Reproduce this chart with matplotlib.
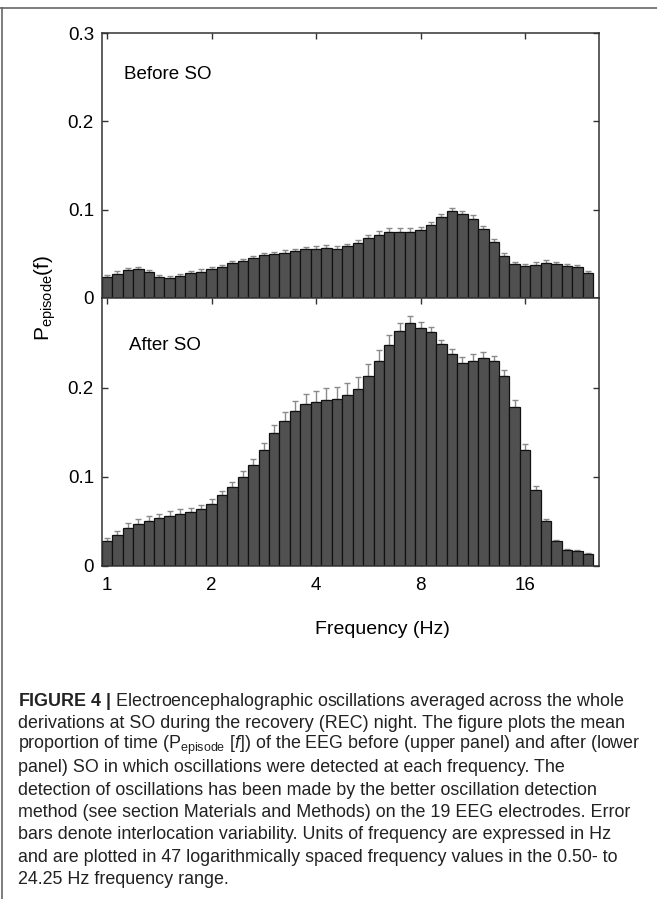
import numpy as np
import matplotlib
matplotlib.use('Agg')
import matplotlib.pyplot as plt
from matplotlib.lines import Line2D

plt.rcParams['font.family'] = ['Liberation Sans', 'DejaVu Sans']
plt.rcParams['mathtext.fontset'] = 'custom'
plt.rcParams['mathtext.rm'] = 'Liberation Sans'
plt.rcParams['mathtext.it'] = 'Liberation Sans:italic'
plt.rcParams['mathtext.bf'] = 'Liberation Sans:bold'

# 47 frequencies, 0.1 octave apart, 1 .. 24.25 Hz
octave_steps = np.arange(47) / 10.0
freqs = 2.0 ** octave_steps

before_so = [0.0233, 0.0275, 0.0313, 0.0324, 0.0290, 0.0240, 0.0229, 0.0248, 0.0279, 0.0298,
             0.0328, 0.0351, 0.0393, 0.0416, 0.0450, 0.0485, 0.0496, 0.0508, 0.0530, 0.0550,
             0.0557, 0.0561, 0.0557, 0.0584, 0.0626, 0.0683, 0.0718, 0.0752, 0.0752, 0.0752,
             0.0767, 0.0828, 0.0912, 0.0980, 0.0950, 0.0900, 0.0779, 0.0630, 0.0477, 0.0385,
             0.0359, 0.0378, 0.0400, 0.0385, 0.0359, 0.0347, 0.0286]
before_err = [0.003, 0.003, 0.003, 0.003, 0.003, 0.0025, 0.0025, 0.0025, 0.0025, 0.0025,
              0.0025, 0.0025, 0.0025, 0.0025, 0.003, 0.003, 0.003, 0.003, 0.003, 0.003,
              0.0035, 0.0035, 0.003, 0.003, 0.003, 0.0035, 0.0035, 0.0035, 0.0035, 0.0035,
              0.0035, 0.0035, 0.0035, 0.0035, 0.003, 0.0035, 0.0035, 0.0035, 0.003, 0.0025,
              0.0025, 0.0025, 0.0025, 0.0025, 0.003, 0.003, 0.0025]

after_so = [0.0278, 0.0353, 0.0429, 0.0477, 0.0508, 0.0538, 0.0564, 0.0579, 0.0602, 0.0635,
            0.0699, 0.0797, 0.0883, 0.1004, 0.1139, 0.1300, 0.1490, 0.1630, 0.1740, 0.1816,
            0.1842, 0.1868, 0.1880, 0.1925, 0.1992, 0.2132, 0.2297, 0.2477, 0.2635, 0.2730,
            0.2677, 0.2632, 0.2489, 0.2383, 0.2282, 0.2301, 0.2331, 0.2308, 0.2132, 0.1790,
            0.1300, 0.0853, 0.0504, 0.0278, 0.0184, 0.0165, 0.0139]
after_err = [0.0040, 0.0045, 0.0049, 0.0049, 0.0049, 0.0049, 0.0053, 0.0056, 0.0049, 0.0045,
             0.0049, 0.0049, 0.0060, 0.0060, 0.0068, 0.0079, 0.0090, 0.0105, 0.0113, 0.0120,
             0.0128, 0.0128, 0.0128, 0.0132, 0.0128, 0.0139, 0.0128, 0.0117, 0.0098, 0.0075,
             0.0068, 0.0049, 0.0049, 0.0049, 0.0064, 0.0079, 0.0068, 0.0056, 0.0068, 0.0071,
             0.0068, 0.0045, 0.0026, 0.0011, 0.0011, 0.0011, 0.0011]

xticks = [1, 2, 4, 8, 16]

caption_lines = [
    r"$\bf{FIGURE\ 4\ |}$ Electroencephalographic oscillations averaged across the whole",
    "derivations at SO during the recovery (REC) night. The figure plots the mean",
    r"proportion of time (P$_{\rm episode}$ [$f$]) of the EEG before (upper panel) and after (lower",
    "panel) SO in which oscillations were detected at each frequency. The",
    "detection of oscillations has been made by the better oscillation detection",
    "method (see section Materials and Methods) on the 19 EEG electrodes. Error",
    "bars denote interlocation variability. Units of frequency are expressed in Hz",
    "and are plotted in 47 logarithmically spaced frequency values in the 0.50- to",
    "24.25 Hz frequency range.",
]

W, H = 657, 899
fig = plt.figure(figsize=(W / 100, H / 100), dpi=100)

left = 102.3 / W
width = (599.3 - 102.3) / W
ax_top = fig.add_axes([left, 1 - 298 / H, width, 265 / H])
ax_bot = fig.add_axes([left, 1 - 566 / H, width, 268 / H])

half = 2 ** 0.05
bar_left = freqs / half
bar_w = freqs * half - freqs / half

for ax, vals, errs in [(ax_top, before_so, before_err),
                       (ax_bot, after_so, after_err)]:
    ax.bar(bar_left, vals, width=bar_w, align='edge', color='#505050',
           edgecolor='#111111', linewidth=0.9, zorder=2)
    ax.errorbar(freqs, vals, yerr=[np.zeros(len(vals)), errs], fmt='none',
                ecolor='#8a8a8a', elinewidth=1.0, capsize=2.5, capthick=1.0, zorder=1)
    ax.set_xscale('log', base=2)
    ax.set_xlim(2 ** -0.045, 2 ** 4.71)
    ax.set_xticks(xticks)
    ax.set_xticks([], minor=True)
    ax.tick_params(direction='in', top=True, right=True, length=4, width=1,
                   color='#333333', labelsize=13.5)
    ax.tick_params(axis='x', pad=8)
    ax.tick_params(axis='y', pad=6)
    for s in ax.spines.values():
        s.set_color('#333333')
        s.set_linewidth(1.1)

ax_top.set_ylim(0, 0.3)
ax_top.set_yticks([0, 0.1, 0.2, 0.3])
ax_top.set_yticklabels(['0', '0.1', '0.2', '0.3'])
ax_top.set_xticklabels([])
ax_top.text(1.12, 0.2525, "Before SO", fontsize=13.5, va='center', ha='left')

ax_bot.set_ylim(0, 0.301)
ax_bot.set_yticks([0, 0.1, 0.2])
ax_bot.set_yticklabels(['0', '0.1', '0.2'])
ax_bot.set_xticklabels([str(t) for t in xticks])
ax_bot.text(1.16, 0.2475, "After SO", fontsize=13.5, va='center', ha='left')

fig.text(382 / W, 1 - 629 / H, "Frequency (Hz)", fontsize=14,
         ha='center', va='center')
fig.text(45 / W, 1 - 298 / H, r"P$_{\rm episode}$(f)", rotation=90,
         fontsize=15, ha='center', va='center')

# frame lines round the figure
fig.add_artist(Line2D([0, 1], [1 - 8 / H, 1 - 8 / H], color='#666666', lw=1.2))
fig.add_artist(Line2D([1.5 / W, 1.5 / W], [0, 1 - 8 / H], color='#666666', lw=1.2))

y0 = 701
for i, line in enumerate(caption_lines):
    fig.text(18 / W, 1 - (y0 + i * 22.3) / H, line, fontsize=12.9,
             ha='left', va='center', color='#222222')

fig.savefig('out.png', dpi=100)
